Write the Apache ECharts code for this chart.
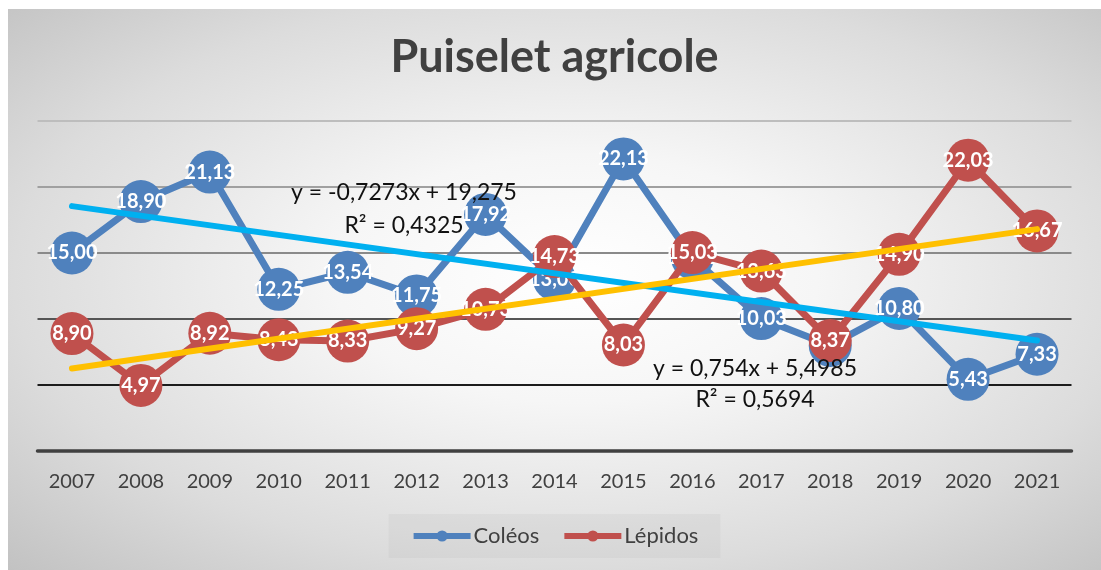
<!DOCTYPE html>
<html>
<head>
<meta charset="utf-8">
<script src="https://cdn.jsdelivr.net/npm/echarts@6/dist/echarts.min.js"></script>
<style>
  html, body { margin: 0; padding: 0; background: #ffffff; width: 1101px; height: 570px; overflow: hidden; }
  #chart {
    position: absolute; left: 8px; top: 9px; width: 1093px; height: 561px;
    background: radial-gradient(ellipse farthest-corner at 52% 48%, #ffffff 0%, #f6f6f6 30%, #dcdcdc 70%, #c2c2c2 100%);
  }
</style>
</head>
<body>
<div id="chart"></div>
<script>
// ---- data ----
const years = ['2007','2008','2009','2010','2011','2012','2013','2014','2015','2016','2017','2018','2019','2020','2021'];
const coleos = [15.00, 18.90, 21.13, 12.25, 13.54, 11.75, 17.92, 13.00, 22.13, 14.63, 10.03, 8.00, 10.80, 5.43, 7.33];
const lepidos = [8.90, 4.97, 8.92, 8.43, 8.33, 9.27, 10.73, 14.73, 8.03, 15.03, 13.63, 8.37, 14.90, 22.03, 16.67];
// linear trend endpoints (first and last year) as shown in the chart
const coleosTrendEnds = [18.55, 8.37];
const lepidosTrendEnds = [6.25, 16.81];
const coleosEquation = ['y = -0,7273x + 19,275', 'R² = 0,4325'];
const lepidosEquation = ['y = 0,754x + 5,4985', 'R² = 0,5694'];

function trendData(ends) {
  const d = years.map(() => null);
  d[0] = ends[0];
  d[d.length - 1] = ends[1];
  return d;
}

const FONT = 'Lato, "Open Sans", sans-serif';
const chart = echarts.init(document.getElementById('chart'), null, { renderer: 'canvas' });

const labelStyle = {
  show: true, position: 'inside', color: '#ffffff', fontWeight: 'bold',
  fontSize: 20, fontFamily: FONT,
  formatter: p => p.value.toFixed(2).replace('.', ',')
};
const eqFont = '23px ' + FONT;

chart.setOption({
  backgroundColor: 'transparent',
  animation: false,
  title: {
    text: 'Puiselet agricole', left: 'center', top: 21,
    textStyle: { fontSize: 45, fontWeight: 'bold', color: '#404040', fontFamily: FONT }
  },
  legend: {
    bottom: 12, left: 'center',
    data: ['Coléos', 'Lépidos'],
    itemWidth: 57, itemHeight: 14, itemGap: 22,
    padding: [11, 22],
    backgroundColor: 'rgba(0,0,0,0.03)',
    lineStyle: { width: 6 },
    textStyle: { fontSize: 22, color: '#404040', fontFamily: FONT, padding: [0, 0, 0, -2] }
  },
  grid: { left: 29.5, right: 29.5, top: 112, bottom: 119 },
  xAxis: {
    type: 'category', data: years, boundaryGap: true,
    axisLine: { show: true, lineStyle: { color: '#404040', width: 3.5 } },
    axisTick: { show: false },
    axisLabel: { color: '#404040', fontSize: 20, margin: 21, fontFamily: FONT }
  },
  yAxis: {
    type: 'value', min: 0, max: 25, interval: 5,
    axisLabel: { show: false }, axisLine: { show: false }, axisTick: { show: false },
    splitLine: { show: true, lineStyle: { width: 2, color: ['#404040', '#1c1c1c', '#555555', '#8a8a8a', '#a0a0a0', '#bdbdbd'] } }
  },
  series: [
    {
      name: 'Coléos', type: 'line', data: coleos, z: 3,
      symbol: 'circle', symbolSize: 43,
      lineStyle: { color: '#4F81BD', width: 7 },
      itemStyle: { color: '#4F81BD' },
      label: labelStyle
    },
    {
      name: 'Lépidos', type: 'line', data: lepidos, z: 4,
      symbol: 'circle', symbolSize: 43,
      lineStyle: { color: '#C0504D', width: 7 },
      itemStyle: { color: '#C0504D' },
      label: labelStyle
    },
    {
      name: 'trendC', type: 'line', data: trendData(coleosTrendEnds), connectNulls: true,
      symbol: 'none', z: 10, silent: true,
      lineStyle: { color: '#00B0F0', width: 6, cap: 'round' }
    },
    {
      name: 'trendL', type: 'line', data: trendData(lepidosTrendEnds), connectNulls: true,
      symbol: 'none', z: 10, silent: true,
      lineStyle: { color: '#FFC000', width: 6, cap: 'round' }
    }
  ],
  graphic: [
    { type: 'text', x: 396, y: 184, z: 20, style: { text: coleosEquation[0], fill: '#111', font: eqFont, textAlign: 'center', textVerticalAlign: 'middle' } },
    { type: 'text', x: 396, y: 217, z: 20, style: { text: coleosEquation[1], fill: '#111', font: eqFont, textAlign: 'center', textVerticalAlign: 'middle' } },
    { type: 'text', x: 747, y: 360, z: 20, style: { text: lepidosEquation[0], fill: '#111', font: eqFont, textAlign: 'center', textVerticalAlign: 'middle' } },
    { type: 'text', x: 747, y: 391, z: 20, style: { text: lepidosEquation[1], fill: '#111', font: eqFont, textAlign: 'center', textVerticalAlign: 'middle' } }
  ]
});
</script>
</body>
</html>
